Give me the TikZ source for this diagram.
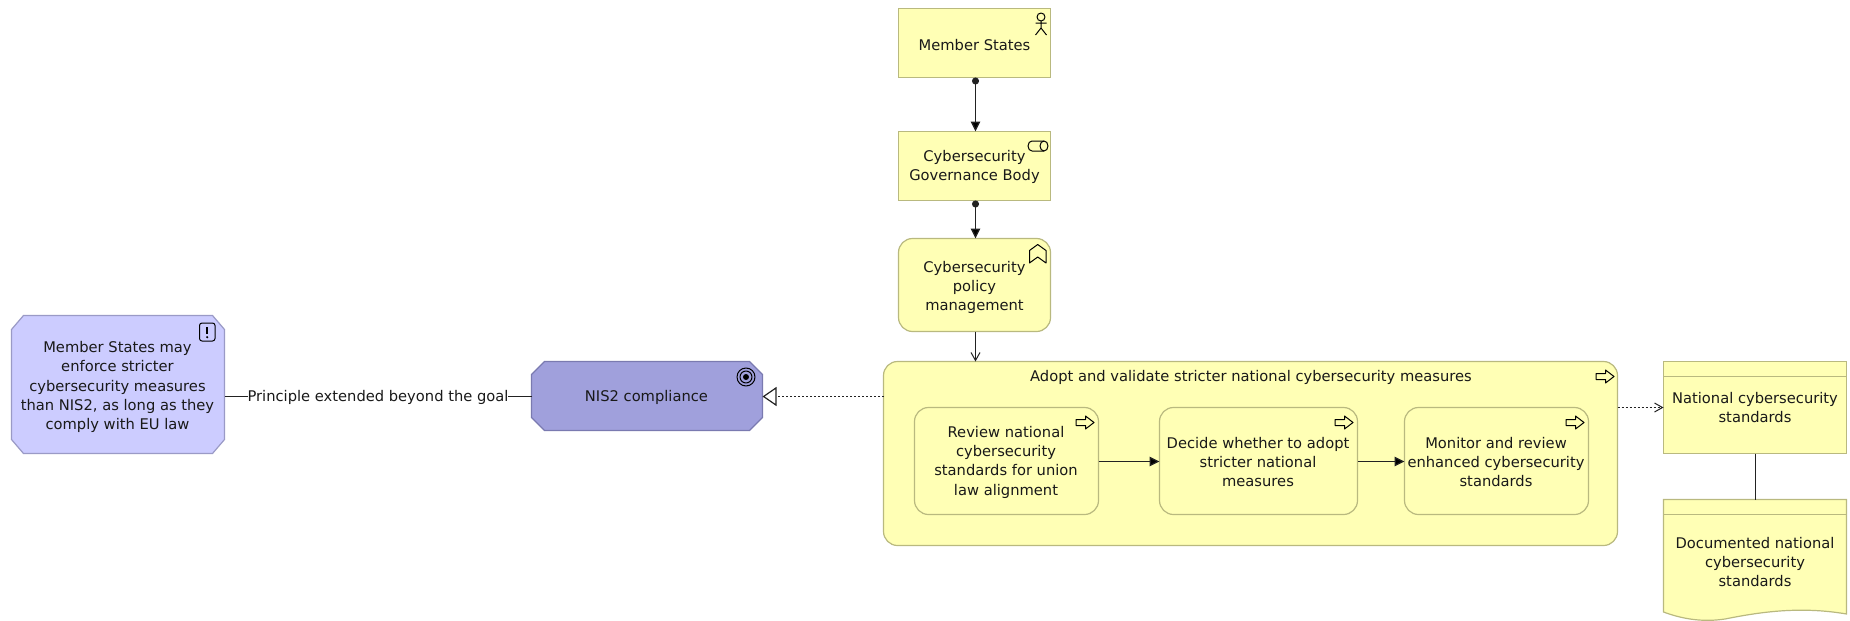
\documentclass[tikz,border=0pt]{standalone}
\usepackage{fontspec}
\setmainfont{DejaVu Sans}
\usetikzlibrary{arrows.meta,calc}
\definecolor{yel}{HTML}{FFFFB5}
\definecolor{yelb}{HTML}{B9B97F}
\definecolor{lil}{HTML}{CCCCFF}
\definecolor{lilb}{HTML}{9A9AC6}
\definecolor{goalc}{HTML}{A0A0DC}
\definecolor{goalb}{HTML}{7A7AB0}
\definecolor{lnk}{HTML}{222222}
\tikzset{
 x=1pt,y=-1pt,
 tdown/.style={execute at begin node={\rule{0pt}{#1}}},
 every node/.style={font=\fontsize{14.7}{19.3}\selectfont,align=center,inner sep=0pt,outer sep=0pt,text=black!90,tdown=15pt},
 yelbox/.style={draw=yelb,fill=yel,line width=1.2pt},
 roundbox/.style={yelbox,rounded corners=14pt},
 conn/.style={draw=lnk,line width=1.3pt},
 dots/.style={dash pattern=on 2pt off 2pt},
 icon/.style={draw=black,line width=1pt,line join=round},
 tri/.style={-{Triangle[length=10pt,width=9.5pt,fill=black]}},
 dottri/.style={{Circle[length=7pt]}-{Triangle[length=10pt,width=9.5pt,fill=black]}},
 opena/.style={-{Straight Barb[length=8pt,width=9pt,line width=1pt]}},
 pics/procicon/.style={code={
  \draw[icon] (-18,-8.5) -- (-8.5,-8.5) -- (-8.5,-12) -- (0,-5.5) -- (-8.5,1) -- (-8.5,-2.5) -- (-18,-2.5) -- cycle;
 }},
}
\begin{document}
\begin{tikzpicture}
\useasboundingbox (0,0) rectangle (1850,621);
% actors and functions
\node[yelbox,minimum width=152pt,minimum height=69pt] (ms) at (974.5,43) {Member States};
\node[yelbox,minimum width=152pt,minimum height=69pt] (gov) at (974.5,166) {};
\node (govtext) at (974.5,167.2) {Cybersecurity\\Governance Body};
\node[roundbox,minimum width=152pt,minimum height=93pt] (pol) at (974.5,285) {};
\node (poltext) at (974.5,287.4) {Cybersecurity\\policy\\management};
% outcome
\node[minimum width=213pt,minimum height=138pt] (drv) at (118,384.5) {};
\draw[lilb,fill=lil,line width=1.2pt] ($(drv.north west)+(12,0)$) -- ($(drv.north east)+(-12,0)$) -- ($(drv.north east)+(0,14)$) -- ($(drv.south east)+(0,-14)$) -- ($(drv.south east)+(-12,0)$) -- ($(drv.south west)+(12,0)$) -- ($(drv.south west)+(0,-14)$) -- ($(drv.north west)+(0,14)$) -- cycle;
\node (drvtext) at (117.5,387) {Member States may\\enforce stricter\\cybersecurity measures\\than NIS2, as long as they\\comply with EU law};
\node (lbl) at (378,396) {Principle extended beyond the goal};
% goal
\node[minimum width=231pt,minimum height=69pt] (nis) at (647,396) {};
\draw[goalb,fill=goalc,line width=1.2pt] ($(nis.north west)+(13,0)$) -- ($(nis.north east)+(-13,0)$) -- ($(nis.north east)+(0,13)$) -- ($(nis.south east)+(0,-13)$) -- ($(nis.south east)+(-13,0)$) -- ($(nis.south west)+(13,0)$) -- ($(nis.south west)+(0,-13)$) -- ($(nis.north west)+(0,13)$) -- cycle;
\node (nistext) at (646.5,396) {NIS2 compliance};
% process group
\node[roundbox,minimum width=734pt,minimum height=184pt] (adopt) at (1250.5,453.5) {};
\node (adopttext) at (1251,375.5) {Adopt and validate stricter national cybersecurity measures};
\node[roundbox,minimum width=184pt,minimum height=107pt] (rev) at (1006.5,461) {};
\node (revtext) at (1006,462.2) {Review national\\cybersecurity\\standards for union\\law alignment};
\node[roundbox,minimum width=198pt,minimum height=107pt] (dec) at (1258.5,461) {};
\node (dectext) at (1258,462.2) {Decide whether to adopt\\stricter national\\measures};
\node[roundbox,minimum width=184pt,minimum height=107pt] (mon) at (1496.5,461) {};
\node (montext) at (1496,462.2) {Monitor and review\\enhanced cybersecurity\\standards};
% business objects
\node[yelbox,minimum width=183pt,minimum height=92pt,tdown=16.5pt] (nat) at (1755,407.5) {National cybersecurity\\standards};
\draw[yelb,line width=1.2pt] (nat.west |- 0,376.5) -- (nat.east |- 0,376.5);
\node[minimum width=183pt,minimum height=122pt] (doc) at (1755,560.5) {};
\draw[yelb,fill=yel,line width=1.2pt] (doc.north west) -- (doc.north east) -- (1846.5,614) .. controls (1800,606) and (1760,612) .. (1725,619) .. controls (1705,622) and (1685,620) .. (1663.5,612) -- cycle;
\draw[yelb,line width=1.2pt] (doc.west |- 0,514.5) -- (doc.east |- 0,514.5);
\node (doctext) at (1755,562) {Documented national\\cybersecurity\\standards};
% connectors
\draw[conn,dottri] ([xshift=1pt]ms.south) -- ([xshift=1pt]gov.north);
\draw[conn,dottri] ([xshift=1pt]gov.south) -- ([xshift=1pt]pol.north);
\draw[conn,opena] ([xshift=1pt]pol.south) -- ([xshift=1pt]pol.south |- adopt.north);
\draw[conn] ([yshift=-.5pt]drv.east |- lbl) -- ([yshift=-.5pt]lbl.west);
\draw[conn] ([yshift=-.5pt]lbl.east) -- ([yshift=-.5pt]nis.west |- lbl);
\draw[conn,dots,-{Triangle[open,length=14pt,width=19pt,fill=white,line width=1.2pt]}] ([yshift=-.5pt]adopt.west |- nis) -- ([yshift=-.5pt]nis.east);
\draw[conn,tri] ([yshift=-.5pt]rev.east) -- ([yshift=-.5pt]dec.west);
\draw[conn,tri] ([yshift=-.5pt]dec.east) -- ([yshift=-.5pt]mon.west);
\draw[conn,dots,opena] (adopt.east |- nat) -- (nat.west);
\draw[conn] ([xshift=.5pt]nat.south) -- ([xshift=.5pt]doc.north);
% icons
\draw[icon,fill=none] (1041,17) circle (4);
\draw[icon] (1041,21) -- (1041,28) (1035.5,23) -- (1046.5,23) (1035.5,35) -- (1041,28) -- (1046.5,35);
\draw[icon] (1032,141) -- (1044,141) arc[x radius=4,y radius=5,start angle=-90,end angle=90] -- (1032,151) arc[x radius=4,y radius=5,start angle=90,end angle=270];
\draw[icon] (1044,141) arc[x radius=4,y radius=5,start angle=270,end angle=90];
\draw[icon] (1029.5,263) -- (1029.5,250.5) -- (1037.7,244.5) -- (1046,250.5) -- (1046,263) -- (1037.7,257) -- cycle;
\draw[icon,rounded corners=2.5pt] (199.5,323) rectangle (215,341);
\draw[black,line width=2pt] (207.2,327) -- (207.2,334);
\fill[black] (207.2,337.2) circle (1.2);
\draw[icon] (746,377) circle (9);
\draw[icon] (746,377) circle (6);
\fill[black] (746,377) circle (3);
\pic at (1614,382) {procicon};
\pic at (1094,428) {procicon};
\pic at (1353,428) {procicon};
\pic at (1584,428) {procicon};
\end{tikzpicture}
\end{document}
